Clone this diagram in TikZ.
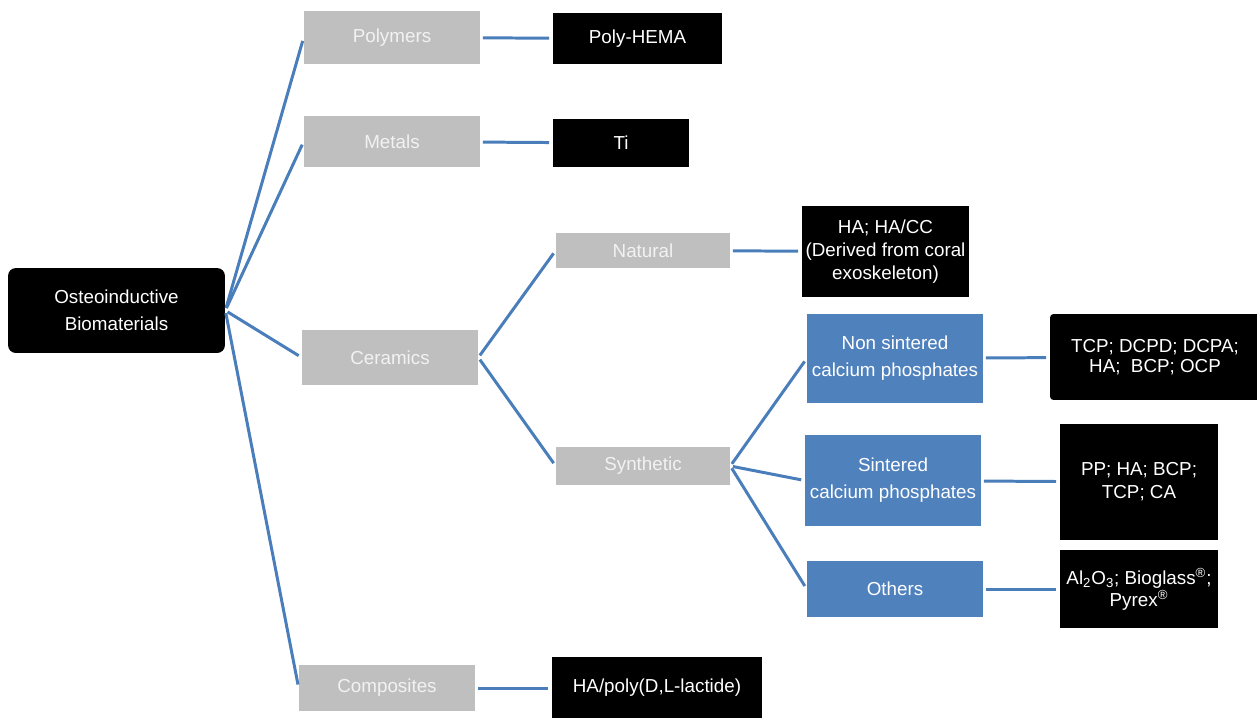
\documentclass[tikz,border=0pt]{standalone}
\usepackage{fontspec}
\setmainfont{Liberation Sans}
\usepackage{tikz}
\usetikzlibrary{positioning,calc}
\definecolor{linkblue}{RGB}{74,126,187}
\definecolor{boxblue}{RGB}{79,129,189}
\definecolor{boxgray}{RGB}{191,191,191}
\definecolor{txtgray}{RGB}{242,242,242}

\tikzset{
  base/.style={inner sep=0pt, align=center, font=\fontsize{10.7}{15.3}\selectfont},
  graybox/.style={base, fill=boxgray, text=txtgray, minimum width=3.52cm},
  bluebox/.style={base, fill=boxblue, text=white, minimum width=3.52cm},
  blackbox/.style={base, fill=black, text=white},
  tight/.style={font=\fontsize{10.7}{13}\selectfont},
  tighter/.style={font=\fontsize{10.7}{11.3}\selectfont},
  link/.style={draw=linkblue, line width=1.7pt, shorten <=1.5pt, shorten >=2pt}
}

\begin{document}
\begin{tikzpicture}[x=0.02cm,y=-0.02cm]
  \useasboundingbox (0,0) rectangle (1257,717);

  % root
  \node[blackbox, rounded corners=4.5pt, minimum width=4.34cm, minimum height=1.70cm] (root) at (116.5,310.5) {Osteoinductive\\Biomaterials};

  % first level
  \node[graybox, minimum height=1.06cm] (poly) at (392,37.5) {Polymers};
  \node[graybox, minimum height=1.02cm] (metal) at (392,141.5) {Metals};
  \node[graybox, minimum height=1.10cm] (ceram) at (390,357.5) {Ceramics};
  \node[graybox, minimum height=0.92cm] (compo) at (387,688) {Composites};

  % ceramics
  \node[graybox, minimum width=3.48cm, minimum height=0.70cm] (natural) at (643,250.5) {Natural};
  \node[graybox, minimum width=3.48cm, minimum height=0.76cm] (synth) at (643,466) {Synthetic};

  % synthetic
  \node[bluebox, minimum height=1.78cm] (nonsint) at (895,358.5) {Non sintered\\calcium phosphates};
  \node[bluebox, minimum height=1.82cm] (sint) at (893,480.5) {Sintered\\calcium phosphates};
  \node[bluebox, minimum height=1.12cm] (others) at (895,589) {Others};

  % examples
  \node[blackbox, minimum width=3.38cm, minimum height=1.02cm] (hema) at (637.5,38.5) {Poly-HEMA};
  \node[blackbox, minimum width=2.72cm, minimum height=0.96cm] (ti) at (621,143) {Ti};
  \node[blackbox, tight, minimum width=3.34cm, minimum height=1.84cm] (coral) at (885.5,251.5) {HA; HA/CC\\(Derived from coral\\exoskeleton)};
  \node[blackbox, tighter, rounded corners=2pt, minimum width=4.20cm, minimum height=1.72cm] (nsex) at (1155,357) {TCP; DCPD; DCPA;\\HA;\ \ BCP; OCP};
  \node[blackbox, tight, minimum width=3.16cm, minimum height=2.32cm] (sex) at (1139,482) {PP; HA; BCP;\\TCP; CA};
  \node[blackbox, tighter, minimum width=3.16cm, minimum height=1.56cm] (oex) at (1139,589) {Al\textsubscript{2}O\textsubscript{3}; Bioglass\textsuperscript{®};\\Pyrex\textsuperscript{®}};
  \node[blackbox, minimum width=4.20cm, minimum height=1.24cm] (pla) at (657,688) {HA/poly(D,L-lactide)};

  % connectors
  \foreach \n in {poly,metal,ceram,compo} {
    \draw[link] (root.east) -- (\n.west);
  }
  \draw[link] (ceram.east) -- (natural.west);
  \draw[link] (ceram.east) -- (synth.west);
  \foreach \n in {nonsint,sint,others} {
    \draw[link] (synth.east) -- (\n.west);
  }
  \draw[link] (poly) -- (hema);
  \draw[link] (metal) -- (ti);
  \draw[link] (natural) -- (coral);
  \draw[link] (nonsint) -- (nsex);
  \draw[link] (sint) -- (sex);
  \draw[link] (others) -- (oex);
  \draw[link] (compo) -- (pla);
\end{tikzpicture}
\end{document}
